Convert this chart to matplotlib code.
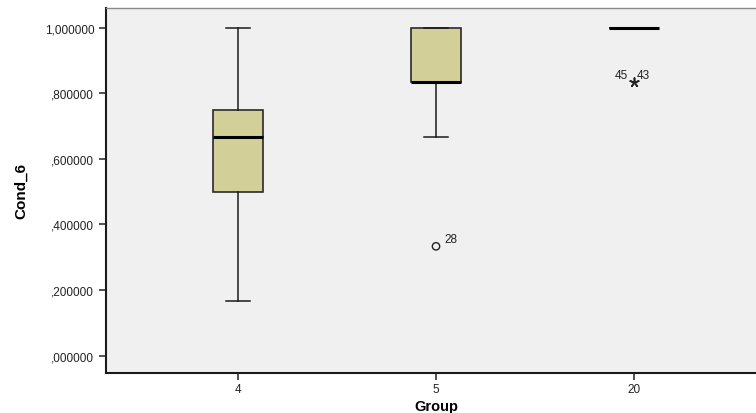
import matplotlib.pyplot as plt
from matplotlib.ticker import FuncFormatter

# box statistics per group
groups = ["4", "5", "20"]
whisk_lo = [0.1667, 0.6667, 1.0]
q1 = [0.5, 0.8333, 1.0]
median = [0.6667, 0.8333, 1.0]
q3 = [0.75, 1.0, 1.0]
whisk_hi = [1.0, 1.0, 1.0]

# outliers: (group index, value, case label)
out_circle = [(1, 0.3333, "28")]
out_star = [(2, 0.8333, "45", "43")]

plt.rcParams["font.family"] = ["Liberation Sans", "DejaVu Sans"]

fig = plt.figure(figsize=(7.56, 4.14), dpi=100)
ax = fig.add_axes([106 / 756, 40 / 414, 660 / 756, 365 / 414])
ax.set_facecolor("#f0f0f0")

stats = []
for i in range(len(groups)):
    stats.append({"whislo": whisk_lo[i], "q1": q1[i], "med": median[i],
                  "q3": q3[i], "whishi": whisk_hi[i], "fliers": []})

ax.bxp(stats, positions=range(len(groups)), widths=0.25, patch_artist=True,
       showfliers=False,
       boxprops=dict(facecolor="#d3cf98", edgecolor="#2a2a2a", linewidth=1.2),
       medianprops=dict(color="black", linewidth=2.2),
       whiskerprops=dict(color="#1a1a1a", linewidth=1.1),
       capprops=dict(color="#1a1a1a", linewidth=1.1),
       capwidths=0.125)

for gi, val, lab in out_circle:
    ax.scatter([gi], [val], marker="o", s=28, facecolors="none",
               edgecolors="#222222", linewidths=1.0, zorder=5)
    ax.annotate(lab, (gi, val), xytext=(6, 3), textcoords="offset points",
                fontsize=8.5, color="#222222")

for gi, val, lab1, lab2 in out_star:
    ax.scatter([gi], [val], marker=(5, 2, 0), s=40, color="#222222",
               linewidths=1.2, zorder=5)
    ax.annotate(lab1, (gi, val), xytext=(-14, 3), textcoords="offset points",
                fontsize=8.5, color="#222222")
    ax.annotate(lab2, (gi, val), xytext=(2, 3), textcoords="offset points",
                fontsize=8.5, color="#222222")

ax.set_xlim(-0.667, 2.667)
ax.set_ylim(-0.053, 1.06)
ax.set_xticks(range(len(groups)))
ax.set_xticklabels(groups)
ax.set_yticks([0, 0.2, 0.4, 0.6, 0.8, 1.0])
ax.yaxis.set_major_formatter(FuncFormatter(
    lambda v, p: ("%.6f" % v).replace("0.", ",", 1) if v < 1 else ("%.6f" % v).replace(".", ",")))
ax.tick_params(axis="both", labelsize=8.5, direction="out", length=5, width=1.2,
               color="#333333", labelcolor="#222222")
ax.tick_params(axis="x", pad=2)

for s in ["left", "bottom"]:
    ax.spines[s].set_linewidth(1.5)
    ax.spines[s].set_color("#1a1a1a")
ax.spines["top"].set_color("#888888")
ax.spines["top"].set_linewidth(1.0)
ax.spines["right"].set_visible(False)

ax.set_ylabel("Cond_6", family=["Liberation Sans Narrow", "Liberation Sans"],
              fontweight="bold", fontsize=11, labelpad=12)
ax.set_xlabel("Group", fontweight="bold", fontsize=10.5, labelpad=3)

fig.savefig("out.png", dpi=100)
